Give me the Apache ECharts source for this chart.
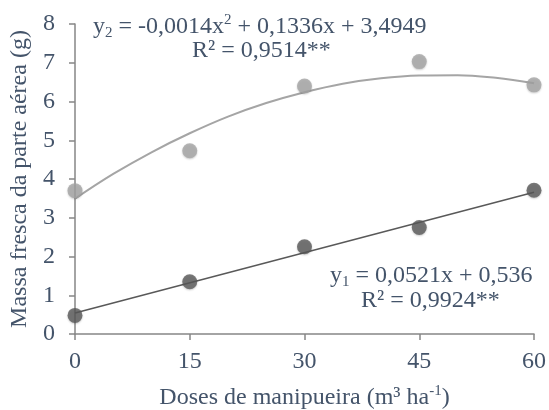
<!DOCTYPE html>
<html>
<head>
<meta charset="utf-8">
<script src="https://cdn.jsdelivr.net/npm/echarts@6/dist/echarts.min.js"></script>
<style>html,body{margin:0;padding:0;background:#fff;}#c{width:549px;height:410px;}</style>
</head>
<body>
<div id="c"></div>
<script>
// Data
var doses = [0, 15, 30, 45, 60];
var series2Points = [3.70, 4.73, 6.40, 7.03, 6.43];   // light grey
var series1Points = [0.48, 1.35, 2.25, 2.75, 3.71];   // dark grey
// trend curve y2
var curve2X = [0, 5, 10, 15, 20, 25, 30, 35, 40, 45, 50, 55, 60];
var curve2Y = [3.49, 4.13, 4.69, 5.18, 5.61, 5.96, 6.24, 6.46, 6.60, 6.67, 6.68, 6.61, 6.47];
// trend line y1 endpoints
var line1X = [0, 60];
var line1Y = [0.54, 3.66];
var xTicks = [0, 15, 30, 45, 60];
var yTicks = [0, 1, 2, 3, 4, 5, 6, 7, 8];

function pairs(xs, ys){ return xs.map(function(x,i){ return [x, ys[i]]; }); }

var txt = '#44546A';
var font = '"Liberation Serif", "Times New Roman", serif';
var FS = 24;
var chart = echarts.init(document.getElementById('c'), null, {renderer:'canvas'});
var richAxis = {
  n: {fontSize: FS, fontFamily: font, color: txt, lineHeight: 28},
  sup: {fontSize: 15, fontFamily: font, color: txt, lineHeight: 28, verticalAlign: 'top'}
};
var richG = {
  n: {fontSize: FS, fontFamily: font, fill: txt, lineHeight: 28},
  sub: {fontSize: 15, fontFamily: font, fill: txt, lineHeight: 28, verticalAlign: 'bottom'},
  sup: {fontSize: 15, fontFamily: font, fill: txt, lineHeight: 28, verticalAlign: 'top'}
};
chart.setOption({
  animation: false,
  grid: {left: 75, right: 15, top: 24, bottom: 76, containLabel: false, outerBoundsMode: 'none'},
  xAxis: {
    type: 'value', min: xTicks[0], max: xTicks[xTicks.length-1], interval: 15,
    splitLine: {show: false},
    axisLine: {lineStyle: {color: '#868686', width: 1.5}},
    axisTick: {length: 6, lineStyle: {color: '#868686', width: 1.5}},
    axisLabel: {color: txt, fontSize: FS, fontFamily: font, margin: 16},
    name: '{n|Doses de manipueira (m³ ha}{sup|-1}{n|)}',
    nameLocation: 'middle', nameGap: 50,
    nameTextStyle: {rich: richAxis}
  },
  yAxis: {
    type: 'value', min: yTicks[0], max: yTicks[yTicks.length-1], interval: 1,
    splitLine: {show: false},
    axisLine: {show: true, lineStyle: {color: '#868686', width: 1.5}},
    axisTick: {show: true, length: 6, lineStyle: {color: '#868686', width: 1.5}},
    axisLabel: {color: txt, fontSize: FS, fontFamily: font, margin: 20},
    name: 'Massa fresca da parte aérea (g)',
    nameLocation: 'middle', nameGap: 41,
    nameTextStyle: {color: txt, fontSize: FS, fontFamily: font}
  },
  series: [
    {type: 'line', data: pairs(curve2X, curve2Y), smooth: 0.4, symbol: 'none',
     lineStyle: {color: '#A5A5A5', width: 2}, z: 2},
    {type: 'line', data: pairs(line1X, line1Y), symbol: 'none',
     lineStyle: {color: '#595959', width: 1.5}, z: 2},
    {type: 'scatter', data: pairs(doses, series2Points), symbolSize: 15,
     itemStyle: {color: '#A5A5A5', shadowBlur: 2, shadowColor: 'rgba(0,0,0,0.25)', shadowOffsetY: 1}, z: 3},
    {type: 'scatter', data: pairs(doses, series1Points), symbolSize: 15,
     itemStyle: {color: '#595959', shadowBlur: 2, shadowColor: 'rgba(0,0,0,0.25)', shadowOffsetY: 1}, z: 3}
  ],
  graphic: [
    {type: 'text', left: 93, top: 13, style: {text: '{n|y}{sub|2}{n| = -0,0014x}{sup|2}{n| + 0,1336x + 3,4949}', rich: richG}},
    {type: 'text', left: 192, top: 39, style: {text: '{n|R² = 0,9514**}', rich: richG}},
    {type: 'text', left: 330, top: 264, style: {text: '{n|y}{sub|1}{n| = 0,0521x + 0,536}', rich: richG}},
    {type: 'text', left: 361, top: 289, style: {text: '{n|R² = 0,9924**}', rich: richG}}
  ]
});
</script>
</body>
</html>
